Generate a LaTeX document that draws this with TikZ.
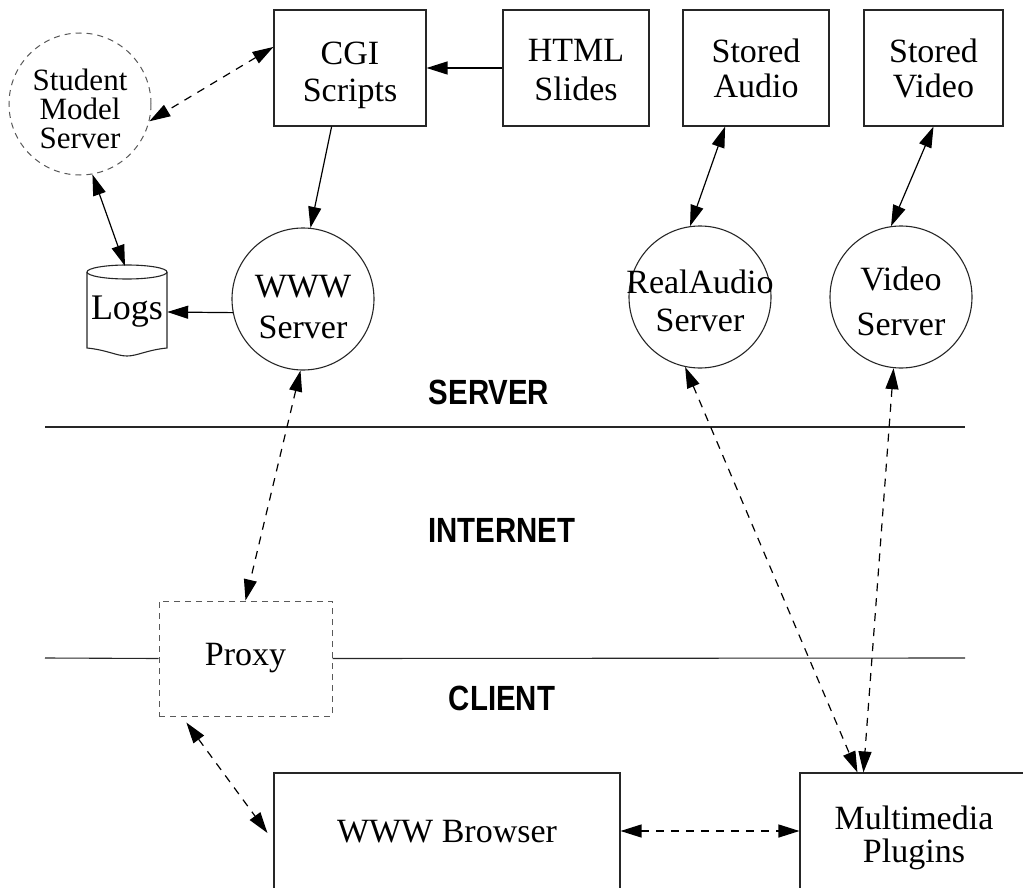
\documentclass[tikz,border=0pt]{standalone}
\usepackage{fontspec}
\setmainfont{Liberation Serif}
\newfontfamily\zonefont{Liberation Sans}
\usetikzlibrary{arrows.meta,calc}

\tikzset{
  >={Triangle[length=21pt,width=13pt]},
  txt/.style={align=center, inner sep=0pt, font=\fontsize{34}{38}\selectfont},
  box/.style={txt, draw=black!85, line width=1.1pt},
  srv/.style={txt, draw=black!85, line width=1.1pt, circle, minimum size=142pt},
  ghostbox/.style={txt, draw=black!65, line width=1pt, dash pattern=on 6pt off 5pt},
  ghostsrv/.style={txt, draw=black!65, line width=1pt, circle, minimum size=142pt, dash pattern=on 6pt off 5pt},
  link/.style={line width=1.2pt, ->},
  dlink/.style={line width=1.2pt, dash pattern=on 8pt off 7pt, ->},
  divider/.style={line width=1.1pt, draw=black!85},
  zone/.style={inner sep=0pt, font=\zonefont\bfseries\fontsize{35}{35}\selectfont}
}

\begin{document}
\begin{tikzpicture}[x=1pt,y=-1pt]
\useasboundingbox (0,0) rectangle (1023,888);

% server-side stores
\node[box, minimum width=152pt, minimum height=116pt] (cgi) at (350,68) {};
\node[txt, font=\fontsize{34}{37}\selectfont] (cgitext) at (350,75) {CGI\\Scripts};
\node[box, minimum width=146pt, minimum height=116pt] (html) at (576,68) {};
\node[txt, font=\fontsize{34}{39}\selectfont] (htmltext) at (576,70) {HTML\\Slides};
\node[box, minimum width=146pt, minimum height=116pt, font=\fontsize{34}{35}\selectfont] (saudio) at (756,68) {Stored\\Audio};
\node[box, minimum width=139pt, minimum height=116pt, font=\fontsize{34}{35}\selectfont] (svideo) at (933.5,68) {Stored\\Video};

% servers
\node[ghostsrv] (student) at (80,104) {};
\node[txt, font=\fontsize{31}{29}\selectfont] (studenttext) at (80,109) {Student\\Model\\Server};
\node[srv] (www) at (303,299) {};
\node[txt, font=\fontsize{34}{41}\selectfont] (wwwtext) at (303,307) {WWW\\Server};
\node[srv] (ra) at (700,297) {};
\node[txt] (ratext) at (700,301) {RealAudio\\Server};
\node[srv] (vs) at (901,297) {};
\node[txt, font=\fontsize{34}{45}\selectfont] (vstext) at (901,301) {Video\\Server};

% log store (cylinder)
\node[txt, minimum width=80pt, minimum height=76pt, font=\fontsize{36}{40}\selectfont] (logs) at (127,312) {Logs};
\draw[line width=1.1pt, draw=black!85] (127,272) ellipse [x radius=40pt, y radius=7pt];
\draw[line width=1.1pt, draw=black!85] (87,272) -- (87,348)
  .. controls (107,350) and (117,356) .. (127,356)
  .. controls (137,356) and (147,350) .. (167,348) -- (167,272);
\coordinate (logtop) at (125,266);

% zone dividers and labels
\node[ghostbox, minimum width=173pt, minimum height=115pt] (proxy) at (245.5,658.5) {Proxy};
\draw[divider] (45,427) -- (965,427);
\draw[divider] (45,658) -- (proxy.west);
\draw[divider] (proxy.east) -- (965,658);
\node[zone] (lserver) at (489,392) {\scalebox{0.84}[1]{SERVER}};
\node[zone] (linternet) at (502,530) {\scalebox{0.84}[1]{INTERNET}};
\node[zone] (lclient) at (502,698) {\scalebox{0.84}[1]{CLIENT}};

% client side
\node[box, minimum width=346pt, minimum height=116pt] (browser) at (447,831) {};
\node[txt] (browsertext) at (447,832) {WWW Browser};
\node[box, minimum width=228pt, minimum height=116pt] (plug) at (914,831) {};
\node[txt, font=\fontsize{34}{33}\selectfont] (plugtext) at (914,838) {Multimedia\\Plugins};
\coordinate (pin1) at ($(plug.north west)+(58,0)$);
\coordinate (pin2) at ($(plug.north west)+(64,0)$);

% connectors
\draw[link] (html.west) -- (cgi.east);
\draw[link] ($(cgi.south west)!0.38!(cgi.south east)$) -- (www.84);
\draw[dlink, <->] ($(cgi.north west)!0.32!(cgi.south west)$) -- (student.-14);
\draw[link, <->] (student.-80) -- (logtop);
\draw[link] (www.191) -- (logs.east);
\draw[link, <->] ($(saudio.south west)!0.29!(saudio.south east)$) -- (ra.98);
\draw[link, <->] ($(svideo.south west)!0.5!(svideo.south east)$) -- (vs.98);
\draw[dlink, <->] (ra.-102) -- (pin1);
\draw[dlink, <->] (vs.-96) -- (pin2);
\draw[dlink, <->] (www.-92) -- (proxy.north);
\draw[dlink, <->] ($(proxy.south west)!0.16!(proxy.south east)+(0,6)$) -- ($(browser.west)+(-6,2)$);
\draw[dlink, <->] (browser.east) -- (plug.west);
\end{tikzpicture}
\end{document}
